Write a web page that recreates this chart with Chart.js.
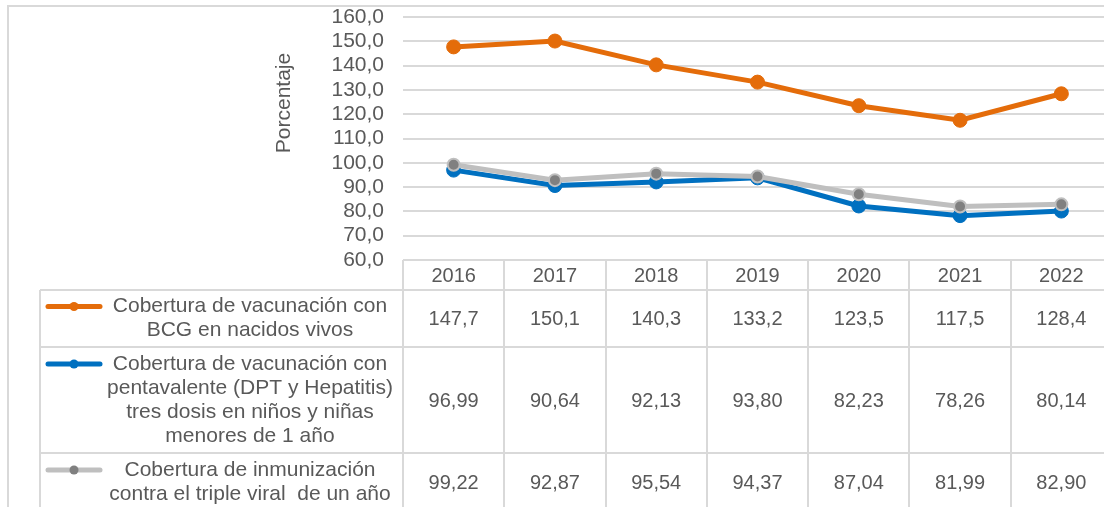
<!DOCTYPE html>
<html>
<head>
<meta charset="utf-8">
<script src="https://cdn.jsdelivr.net/npm/chart.js@4.4.0/dist/chart.umd.min.js"></script>
<style>
  html, body { margin: 0; padding: 0; background: #fff; overflow: hidden; }
  #wrap { width: 1130px; height: 507px; position: relative; }
</style>
</head>
<body>
<div id="wrap"><canvas id="myChart"></canvas></div>
<script>
// data
const years = ["2016", "2017", "2018", "2019", "2020", "2021", "2022"];
const bcg = [147.7, 150.1, 140.3, 133.2, 123.5, 117.5, 128.4];
const penta = [96.99, 90.64, 92.13, 93.80, 82.23, 78.26, 80.14];
const tripleViral = [99.22, 92.87, 95.54, 94.37, 87.04, 81.99, 82.90];
const seriesNames = [
  ["Cobertura de vacunación con", "BCG en nacidos vivos"],
  ["Cobertura de vacunación con", "pentavalente (DPT y Hepatitis)", "tres dosis en niños y niñas", "menores de 1 año"],
  ["Cobertura de inmunización", "contra el triple viral  de un año"],
];
const seriesDecimals = [1, 2, 2];
const yTicks = { min: 60, max: 160, step: 10 };

const FONT = "'Liberation Sans', Arial, sans-serif";
const TEXT = "#595959";
const LINE = "#D9D9D9";

const fmt = (v, d) => v.toFixed(d).replace(".", ",");

// data table + legend keys + axis title drawn under the plot
const tablePlugin = {
  id: "dataTable",
  beforeDraw(chart) {
    const ctx = chart.ctx;
    ctx.save();
    // outer chart border
    ctx.strokeStyle = LINE;
    ctx.lineWidth = 2;
    ctx.beginPath();
    ctx.moveTo(8, 507);
    ctx.lineTo(8, 6);
    ctx.lineTo(1130, 6);
    ctx.stroke();
    ctx.restore();
  },
  afterDraw(chart) {
    const ctx = chart.ctx;
    const area = chart.chartArea;
    const x = chart.scales.x;
    const colW = (area.right - area.left) / years.length;
    const rows = [area.bottom, 290, 347, 453, 511];
    const legLeft = 40;

    ctx.save();
    ctx.strokeStyle = LINE;
    ctx.lineWidth = 2;
    ctx.beginPath();
    // column lines
    for (let i = 0; i <= years.length; i++) {
      const cx = Math.round(area.left + i * colW);
      ctx.moveTo(cx, rows[0]);
      ctx.lineTo(cx, rows[4]);
    }
    // row lines
    for (let r = 1; r < rows.length - 1; r++) {
      ctx.moveTo(legLeft, rows[r]);
      ctx.lineTo(area.right, rows[r]);
    }
    ctx.moveTo(legLeft, rows[1]);
    ctx.lineTo(legLeft, rows[4]);
    ctx.stroke();

    ctx.fillStyle = TEXT;
    ctx.textAlign = "center";
    ctx.textBaseline = "middle";
    ctx.font = "20px " + FONT;
    years.forEach((yr, i) => {
      ctx.fillText(yr, x.getPixelForValue(i), (rows[0] + rows[1]) / 2 + 1);
    });

    chart.data.datasets.forEach((ds, s) => {
      const top = rows[s + 1], bot = rows[s + 2];
      const mid = (top + bot) / 2;
      ctx.font = "20px " + FONT;
      ds.data.forEach((v, i) => {
        ctx.fillText(fmt(v, seriesDecimals[s]), x.getPixelForValue(i), mid + 1);
      });
      // legend text
      ctx.font = "21px " + FONT;
      const lines = seriesNames[s];
      const lh = 24;
      const y0 = mid - (lines.length - 1) * lh / 2;
      lines.forEach((t, k) => ctx.fillText(t, 250, y0 + k * lh));
      // legend key
      ctx.strokeStyle = ds.borderColor;
      ctx.lineWidth = 5;
      ctx.lineCap = "round";
      ctx.beginPath();
      ctx.moveTo(48, y0);
      ctx.lineTo(100, y0);
      ctx.stroke();
      ctx.fillStyle = ds.pointBackgroundColor;
      ctx.beginPath();
      ctx.arc(74, y0, 4.5, 0, Math.PI * 2);
      ctx.fill();
      ctx.fillStyle = TEXT;
    });

    // axis title
    ctx.font = "21px " + FONT;
    ctx.translate(284, 103);
    ctx.rotate(-Math.PI / 2);
    ctx.fillText("Porcentaje", 0, 0);
    ctx.restore();
  },
};

const ctx = document.getElementById("myChart").getContext("2d");

new Chart(ctx, {
  type: "line",
  data: {
    labels: years,
    datasets: [
      {
        label: seriesNames[0].join(" "),
        data: bcg,
        borderColor: "#E46C0A",
        backgroundColor: "#E46C0A",
        pointBackgroundColor: "#E46C0A",
        pointBorderColor: "#E46C0A",
        borderWidth: 5,
        pointRadius: 7,
        pointBorderWidth: 1,
        order: 3,
      },
      {
        label: seriesNames[1].join(" "),
        data: penta,
        borderColor: "#0070C0",
        backgroundColor: "#0070C0",
        pointBackgroundColor: "#0070C0",
        pointBorderColor: "#0070C0",
        borderWidth: 5,
        pointRadius: 7,
        pointBorderWidth: 1,
        order: 2,
      },
      {
        label: seriesNames[2].join(" "),
        data: tripleViral,
        borderColor: "#BFBFBF",
        backgroundColor: "#808080",
        pointBackgroundColor: "#808080",
        pointBorderColor: "#BFBFBF",
        borderWidth: 5,
        pointRadius: 6,
        pointBorderWidth: 2,
        order: 1,
      },
    ],
  },
  options: {
    responsive: true,
    maintainAspectRatio: false,
    animation: false,
    layout: { padding: { top: 17, bottom: 247, right: 18, left: 0 } },
    plugins: {
      legend: { display: false },
      tooltip: { enabled: false },
      title: { display: false },
    },
    scales: {
      x: { display: false, offset: true },
      y: {
        min: yTicks.min,
        max: yTicks.max,
        afterFit: (scale) => {
          scale.width = 403;
          scale.paddingTop = 0;
          scale.paddingBottom = 0;
        },
        border: { display: false },
        grid: { color: LINE, lineWidth: 2, drawTicks: false },
        ticks: {
          stepSize: yTicks.step,
          autoSkip: false,
          padding: 19,
          color: TEXT,
          font: { family: FONT, size: 21 },
          callback: (v) => fmt(v, 1),
        },
      },
    },
  },
  plugins: [tablePlugin],
});
</script>
</body>
</html>
